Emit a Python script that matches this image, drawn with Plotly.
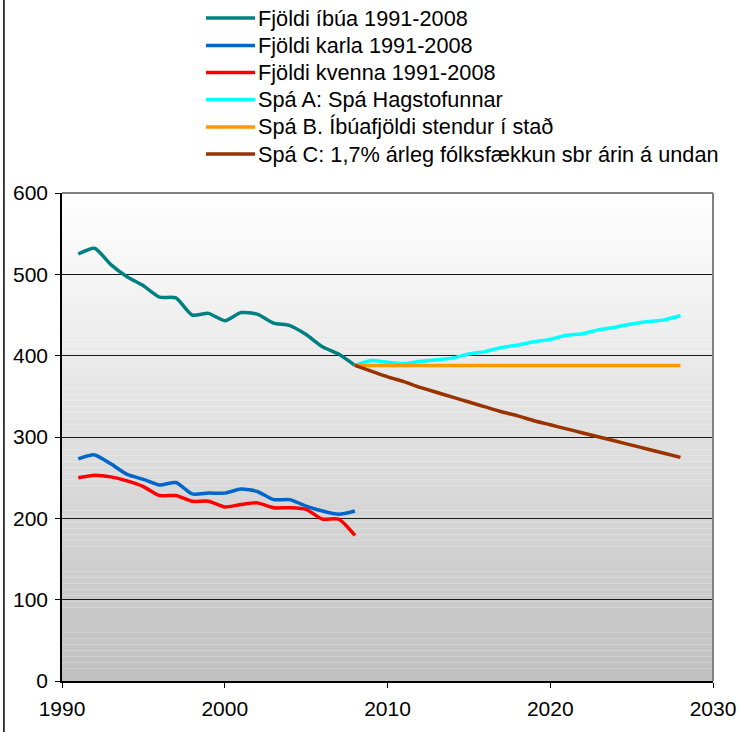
import plotly.graph_objects as go

years_hist = list(range(1991, 2009))
years_proj = list(range(2008, 2029))

ibuar = [525, 532, 512, 497, 486, 472, 471, 450, 452, 443, 453, 451, 440, 437, 426, 411, 402, 388]
karlar = [273, 278, 267, 254, 248, 241, 244, 230, 231, 231, 236, 233, 223, 223, 215, 209, 205, 209]
konur = [250, 253, 251, 246, 239, 228, 228, 221, 221, 214, 217, 219, 213, 213, 211, 199, 199, 179]

spa_a = [388, 394, 392, 390, 393, 395, 397, 402, 405, 410, 413, 417, 420, 425, 427, 432, 435, 439, 442, 444, 449]
spa_b = [388] * 21
spa_c = [388, 381, 374, 368, 361, 355, 349, 343, 337, 331, 326, 320, 315, 310, 305, 300, 295, 290, 285, 280, 275]

names = [
    "Fjöldi íbúa 1991-2008",
    "Fjöldi karla 1991-2008",
    "Fjöldi kvenna 1991-2008",
    "Spá A: Spá Hagstofunnar",
    "Spá B. Íbúafjöldi stendur í stað",
    "Spá C: 1,7% árleg fólksfækkun sbr árin á undan",
]
colors = ["#008080", "#0066CC", "#FF0000", "#00FFFF", "#FF9900", "#993300"]

xy = [
    (years_hist, ibuar),
    (years_hist, karlar),
    (years_hist, konur),
    (years_proj, spa_a),
    (years_proj, spa_b),
    (years_proj, spa_c),
]

fig = go.Figure()
for (xs, ys), n, c in zip(xy, names, colors):
    fig.add_trace(go.Scatter(
        x=xs, y=ys, name=n, mode="lines", showlegend=False,
        line=dict(color=c, width=3.5, shape="spline", smoothing=0.6),
    ))

# Gradient background (white at top to grey at bottom)
shapes = []
N = 80
for i in range(N):
    t = (i + 0.5) / N  # 0 bottom -> 1 top
    g = int(round(192 + (255 - 192) * t))
    shapes.append(dict(
        type="rect", xref="x domain", yref="y domain",
        x0=0, x1=1, y0=i / N, y1=(i + 1) / N,
        fillcolor=f"rgb({g},{g},{g})", line=dict(width=0), layer="below",
    ))
# Top and right frame of the plot area
shapes.append(dict(type="line", xref="x domain", yref="y domain", x0=0, x1=1, y0=1, y1=1,
                   line=dict(color="#808080", width=2), layer="above"))
shapes.append(dict(type="line", xref="x domain", yref="y domain", x0=1, x1=1, y0=0, y1=1,
                   line=dict(color="#808080", width=2), layer="above"))
# Left border of the whole chart
shapes.append(dict(type="line", xref="paper", yref="paper", x0=-0.0892, x1=-0.0892, y0=-0.2, y1=1.5,
                   line=dict(color="#000000", width=1.5), layer="above"))

# Legend (drawn in the top margin)
PLOT_L, PLOT_W, PLOT_B, PLOT_H = 62, 651, 681, 488
def px_to_paper_x(px):
    return (px - PLOT_L) / PLOT_W
def px_to_paper_y(py):
    return (PLOT_B - py) / PLOT_H

annotations = []
row_y = [18, 45.5, 72.5, 99.5, 127, 154]
for n, c, ry in zip(names, colors, row_y):
    yy = px_to_paper_y(ry)
    shapes.append(dict(type="line", xref="paper", yref="paper",
                       x0=px_to_paper_x(206), x1=px_to_paper_x(255), y0=yy, y1=yy,
                       line=dict(color=c, width=3.5), layer="above"))
    annotations.append(dict(xref="paper", yref="paper", x=px_to_paper_x(256), y=yy,
                            xanchor="left", yanchor="middle", text=n, showarrow=False,
                            font=dict(size=21.7, color="black")))

fig.update_layout(
    width=740, height=732,
    margin=dict(l=62, r=27, t=193, b=51, autoexpand=False),
    paper_bgcolor="white",
    plot_bgcolor="white",
    font=dict(family="Liberation Sans", size=21, color="black"),
    shapes=shapes,
    annotations=annotations,
    showlegend=False,
    xaxis=dict(
        range=[1990, 2030], tickmode="array", tickvals=[1990, 2000, 2010, 2020, 2030],
        showgrid=False, zeroline=False, showline=True, linecolor="black", linewidth=1.5,
        ticks="outside", ticklen=5, tickcolor="black", ticklabelstandoff=3,
    ),
    yaxis=dict(
        range=[0, 600], tickmode="array", tickvals=[0, 100, 200, 300, 400, 500, 600],
        showgrid=True, gridcolor="#1a1a1a", gridwidth=1, zeroline=False,
        showline=True, linecolor="black", linewidth=1.5,
        ticks="outside", ticklen=5, tickcolor="black", ticklabelstandoff=3,
    ),
)

fig.write_html(
    "out.html",
    config={"displayModeBar": False},
    post_script="document.body.style.margin='0';document.body.style.overflow='hidden';",
)
